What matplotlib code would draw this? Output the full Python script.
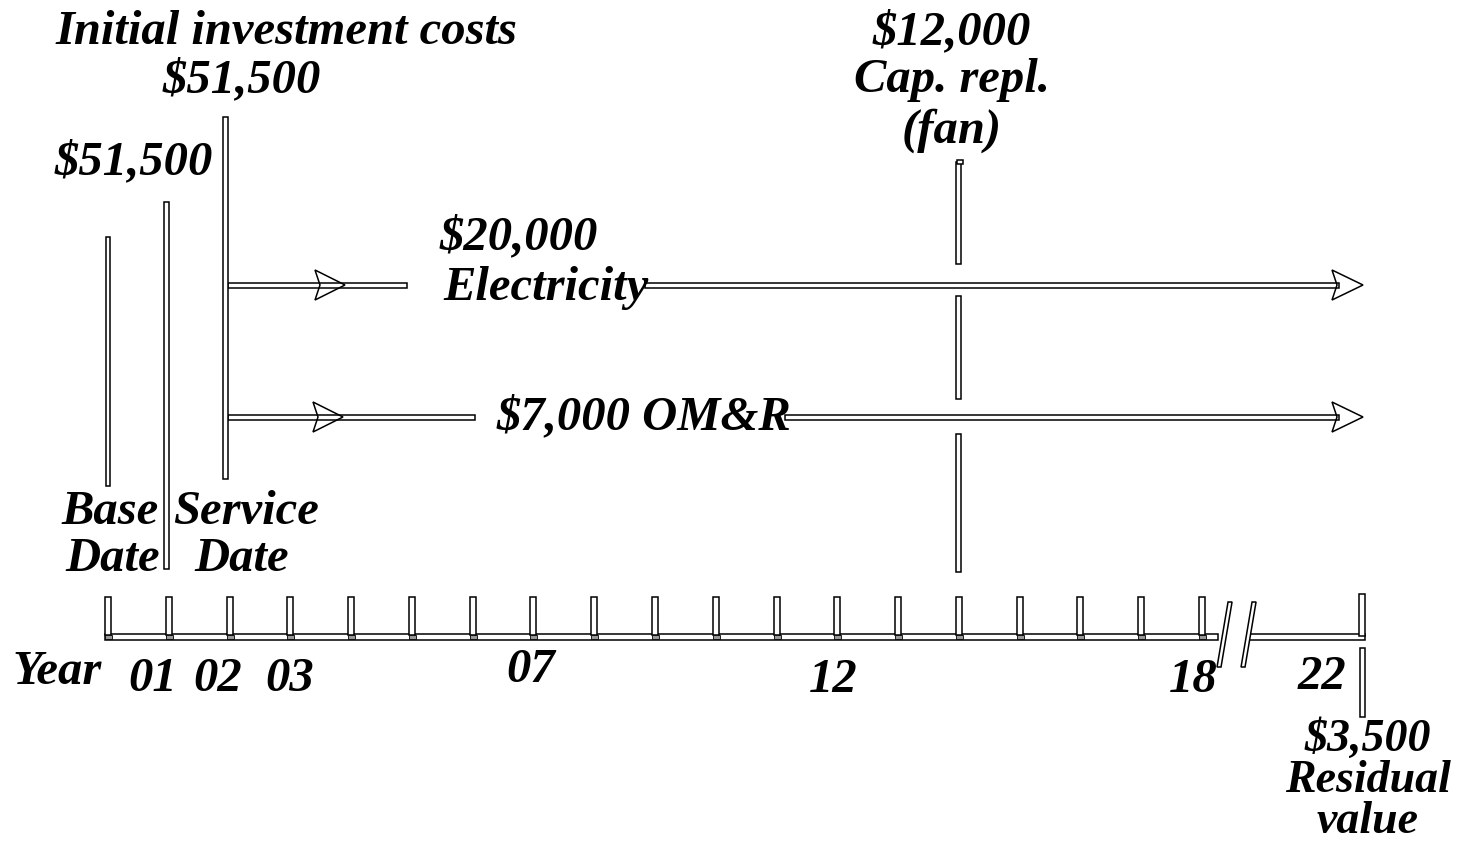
import matplotlib
matplotlib.use("Agg")
import matplotlib.pyplot as plt
from matplotlib.patches import Rectangle, Polygon

# ---------------- data ----------------
timeline_years = list(range(0, 19)) + [22]
tick_label_years = [1, 2, 3, 7, 12, 18, 22]
tick_labels = ["01", "02", "03", "07", "12", "18", "22"]
investment_years = [1, 2]
investment_amounts = [51500, 51500]
base_year = 0
service_year = 2
electricity_amount = 20000
omr_amount = 7000
study_end_year = 22
cap_repl_year = 14
cap_repl_amount = 12000
residual_year = 22
residual_amount = 3500
break_after_year = 18

# ---------------- layout ----------------
W, H = 1470, 845
PXY = 60.78            # pixels per year on the unbroken part
X0 = 108               # pixel of year 0
COMPRESS = 0.658       # compression of years after the break
TY = -3                # vertical text nudge


def pos(year):
    if year <= break_after_year:
        return year
    return break_after_year + (year - break_after_year) * COMPRESS


def px(n):
    return n / PXY


fig = plt.figure(figsize=(W / 100, H / 100), dpi=100)
ax = fig.add_axes([0, 0, 1, 1])
ax.set_xlim(-X0 / PXY, (W - X0) / PXY)
ax.set_ylim(H, 0)
ax.axis("off")

FONT = dict(family="Liberation Serif", fontweight="bold", style="italic",
            color="black")
FS = 35
EC = "black"
LW = 1.1


def vbar(year, y0, y1, w=5, dx=0):
    ax.add_patch(Rectangle((pos(year) + px(dx) - px(w) / 2, y0), px(w), y1 - y0,
                           facecolor="white", edgecolor=EC, lw=LW, zorder=3))


def hshaft(x0, x1, yc, h=5):
    ax.add_patch(Rectangle((x0, yc - h / 2), x1 - x0, h,
                           facecolor="white", edgecolor=EC, lw=LW, zorder=2))


def head(tip_x, yc, length=30, half=15, notch=5):
    pts = [(tip_x - px(length), yc - half), (tip_x, yc),
           (tip_x - px(length), yc + half), (tip_x - px(length - notch), yc)]
    ax.add_patch(Polygon(pts, closed=True, fill=False, edgecolor=EC, lw=LW, zorder=4))


def label(x, y, s, ha="center", fs=FS, **kw):
    ax.text(x, y + TY, s, ha=ha, va="center_baseline", fontsize=fs, **FONT, **kw)


def money(v):
    return "${:,}".format(v)


# ---- timeline base (broken) ----
BASE_Y0, BASE_Y1 = 635, 641
left_end = pos(break_after_year) + px(16)
right_start = pos(break_after_year) + px(45)
ax.add_patch(Rectangle((pos(0) - px(3), BASE_Y0), left_end - pos(0) + px(3), BASE_Y1 - BASE_Y0,
                       facecolor="white", edgecolor=EC, lw=LW, zorder=2))
ax.add_patch(Rectangle((right_start, BASE_Y0), pos(study_end_year) + px(3) - right_start,
                       BASE_Y1 - BASE_Y0, facecolor="white", edgecolor=EC, lw=LW, zorder=2))
# break marks
for off in (0, 24):
    bx = pos(break_after_year)
    pts = [(bx + px(26 + off), 603), (bx + px(30 + off), 603),
           (bx + px(19 + off), 668), (bx + px(15 + off), 668)]
    ax.add_patch(Polygon(pts, closed=True, facecolor="white", edgecolor=EC, lw=LW, zorder=4))

# ---- year ticks ----
for yr in timeline_years:
    if yr == study_end_year:
        vbar(yr, 595, 637, w=6)
    else:
        vbar(yr, 598, 636, w=6)
        ax.add_patch(Rectangle((pos(yr) - px(3), 636), px(7), 4, facecolor="#999999",
                               edgecolor=EC, lw=0.6, zorder=3))

# ---- tick labels ----
label_dx = {1: -16, 2: -12, 3: -1, 7: -3, 12: -4, 18: -9, 22: -40}
label_y = {1: 677, 2: 677, 3: 677, 7: 668, 12: 678, 18: 678, 22: 675}
for yr, txt in zip(tick_label_years, tick_labels):
    label(pos(yr) + px(label_dx[yr]), label_y[yr], txt)
label(pos(0) - px(51), 670, "Year")

# ---- base / service date and initial investment ----
vbar(base_year, 238, 487, w=4)
vbar(investment_years[0], 203, 570, w=5, dx=-2)
vbar(investment_years[1], 118, 480, w=5, dx=-4)
label(pos(base_year) + px(2), 510, "Base")
label(pos(base_year) + px(5), 557, "Date")
label(pos(service_year) + px(17), 510, "Service")
label(pos(service_year) + px(12), 557, "Date")
label(pos(investment_years[0]) - px(35), 160, money(investment_amounts[0]))
label(pos(investment_years[1]) + px(57), 30, "Initial investment costs")
label(pos(investment_years[1]) + px(12), 78, money(investment_amounts[1]))

# ---- annual cash flows (arrows) ----
shaft_start = pos(service_year) - px(2)
end_tip = pos(study_end_year) + px(1)
# electricity
ye = 286
hshaft(shaft_start, pos(0) + px(299), ye)
head(pos(0) + px(237), ye)
hshaft(pos(0) + px(537), end_tip - px(24), ye)
head(end_tip, ye, length=31, half=15)
label(pos(0) + px(332), 235, money(electricity_amount), ha="left")
label(pos(0) + px(335), 286, "Electricity", ha="left")
# OM&R
yo = 418
hshaft(shaft_start, pos(0) + px(367), yo)
head(pos(0) + px(235), yo)
hshaft(pos(0) + px(677), end_tip - px(24), yo)
head(end_tip, yo, length=31, half=15)
label(pos(0) + px(389), 415, money(omr_amount) + " OM&R", ha="left")

# ---- capital replacement (fan) ----
for y0, y1 in [(163, 265), (297, 400), (435, 573)]:
    vbar(cap_repl_year, y0, y1, w=5)
ax.add_patch(Rectangle((pos(cap_repl_year) - px(2), 161), px(6), 4,
                       facecolor="white", edgecolor=EC, lw=LW, zorder=4))
label(pos(cap_repl_year) - px(7), 30, money(cap_repl_amount))
label(pos(cap_repl_year) - px(7), 78, "Cap. repl.")
label(pos(cap_repl_year) - px(7), 128, "(fan)")

# ---- residual value ----
vbar(residual_year, 649, 718, w=5)
ax.text(pos(residual_year) + px(6), 843, money(residual_amount) + "\nResidual\nvalue",
        ha="center", va="bottom", fontsize=33, linespacing=0.97,
        multialignment="center", **FONT)

fig.savefig("out.png", dpi=100, facecolor="white")
